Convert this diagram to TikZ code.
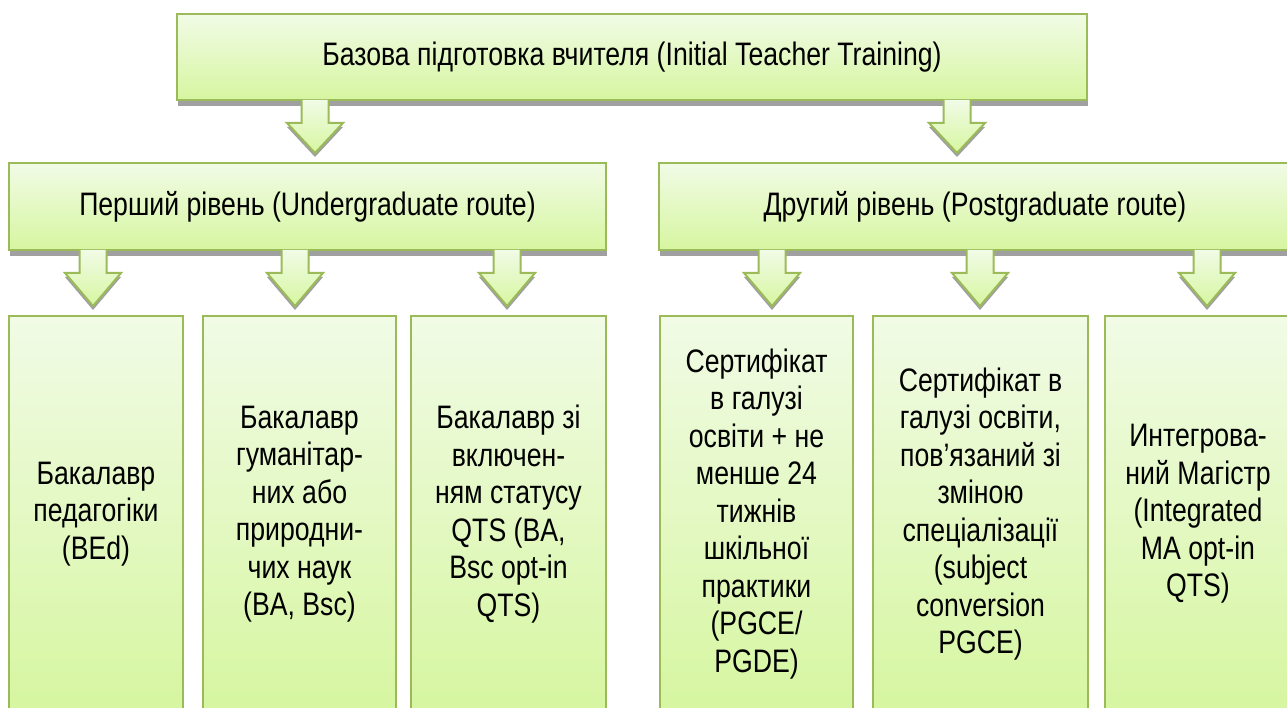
\documentclass[tikz,border=0pt]{standalone}
\usepackage{fontspec}
\setmainfont{Liberation Sans}[FakeStretch=0.82]
\usetikzlibrary{calc,shadows}

\definecolor{boxline}{RGB}{155,187,89}
\definecolor{boxtop}{RGB}{241,251,230}
\definecolor{boxbot}{RGB}{214,246,160}
\definecolor{boxshade}{RGB}{160,160,160}

\tikzset{
  box/.style={draw=boxline, line width=2.5pt, top color=boxtop, bottom color=boxbot,
    anchor=north west, inner sep=0pt, outer sep=0pt, align=center,
    font=\fontsize{32.5}{37.5}\selectfont},
  boxshadow/.style={drop shadow={shadow xshift=1pt, shadow yshift=-6pt, fill=boxshade, opacity=1}},
  arrowbox/.style={draw=boxline, line width=2pt, top color=boxtop, bottom color=boxbot,
    line join=miter, drop shadow={shadow xshift=0pt, shadow yshift=-4pt, fill=boxshade, opacity=1}}
}

% block arrow: #1 from, #2 to, #3 x
\newcommand{\greenarrow}[3]{%
  \path (#3,0 |- #1.south) coordinate (a0) (#3,0 |- #2.north) coordinate (a1);
  \draw[arrowbox] ($(a0)+(-13.5,0)$) -- ($(a0)+(-13.5,23)$) -- ($(a0)+(-28,23)$)
    -- ($(a1)+(0,-10)$) -- ($(a0)+(28,23)$) -- ($(a0)+(13.5,23)$) -- ($(a0)+(13.5,0)$);
}

\begin{document}
\begin{tikzpicture}[x=1pt,y=-1pt]
\clip (0,0) rectangle (1287,708);
\fill[white] (0,0) rectangle (1287,708);

% рівень 0
\node[box, boxshadow, minimum width=910pt, minimum height=86pt] (top) at (177,14)
  {Базова підготовка вчителя (Initial Teacher Training)};

% рівень 1
\node[box, boxshadow, minimum width=597pt, minimum height=87pt] (under) at (9,163)
  {Перший рівень (Undergraduate route)};
\node[box, boxshadow, minimum width=632pt, minimum height=87pt] (post) at (659,163)
  {Другий рівень (Postgraduate route)};

% рівень 2
\node[box, minimum width=174pt, minimum height=396pt] (bed) at (9,316)
  {Бакалавр\\педагогіки\\(BEd)};
\node[box, minimum width=193pt, minimum height=396pt] (bsci) at (203,316)
  {Бакалавр\\гуманітар-\\них або\\природни-\\чих наук\\(BA, Bsc)};
\node[box, minimum width=195pt, minimum height=396pt] (qts) at (411,316)
  {Бакалавр зі\\включен-\\ням статусу\\QTS (BA,\\Bsc opt-in\\QTS)};
\node[box, minimum width=193pt, minimum height=396pt] (pgce) at (660,316)
  {Сертифікат\\в галузі\\освіти + не\\менше 24\\тижнів\\шкільної\\практики\\(PGCE/\\PGDE)};
\node[box, minimum width=215pt, minimum height=396pt] (conv) at (873,316)
  {Сертифікат в\\галузі освіти,\\пов’язаний зі\\зміною\\спеціалізації\\(subject\\conversion\\PGCE)};
\node[box, minimum width=186pt, minimum height=396pt] (integ) at (1105,316)
  {Интегрова-\\ний Магістр\\(Integrated\\MA opt-in\\QTS)};

% стрілки
\greenarrow{top}{under}{315}
\greenarrow{top}{post}{957}
\greenarrow{under}{bed}{93}
\greenarrow{under}{bsci}{295}
\greenarrow{under}{qts}{507}
\greenarrow{post}{pgce}{772}
\greenarrow{post}{conv}{980}
\greenarrow{post}{integ}{1207}
\end{tikzpicture}
\end{document}
